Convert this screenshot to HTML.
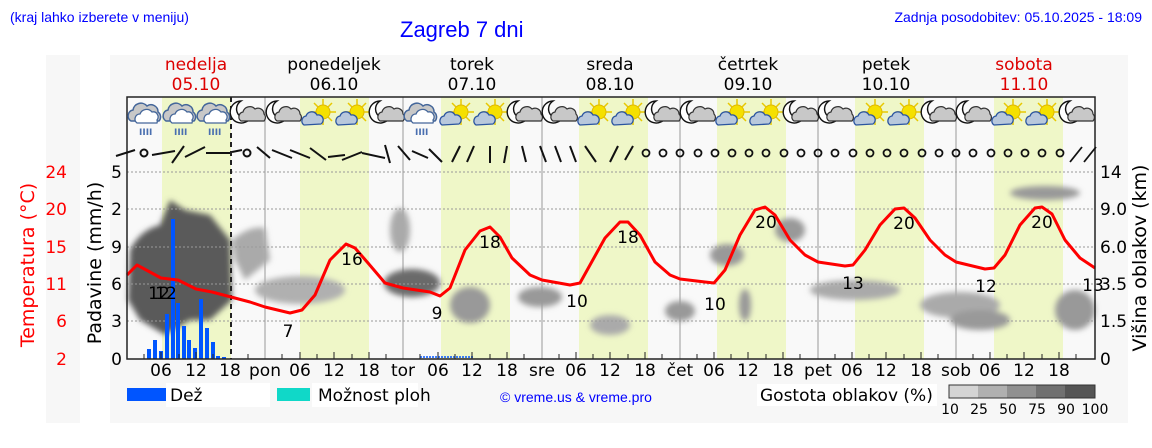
<!DOCTYPE html>
<html><head><meta charset="utf-8"><style>
body{margin:0;background:#fff;width:1152px;height:443px;overflow:hidden;font-family:"Liberation Sans",sans-serif}
</style></head><body>
<svg width="1152" height="443" xmlns="http://www.w3.org/2000/svg" font-family="DejaVu Sans, Liberation Sans, sans-serif">
<defs>
<filter id="bl" x="-30%" y="-30%" width="160%" height="160%"><feGaussianBlur stdDeviation="3"/></filter>
<g id="cr"><path d="M-14,4 a6,6 0 0 1 2,-11 a8,8 0 0 1 14,-4 a7,7 0 0 1 11,6 a6,6 0 0 1 1,9 z" fill="#c8c8c8" stroke="#44669a" stroke-width="1.5"/><path d="M-8,6 a5,5 0 0 1 3,-9 a7,7 0 0 1 12,-2 a5,5 0 0 1 5,8 a4,4 0 0 1 0,3 z" fill="#fff" stroke="#44669a" stroke-width="1.3"/><text x="-6" y="18" font-size="9" fill="#4a6fb0" font-weight="bold">IIII</text></g>
<g id="moon"><path d="M-6,-12 a11,11 0 1 0 10,16 a9,9 0 0 1 -10,-16z" fill="#fff" stroke="#111" stroke-width="1.4"/><path d="M-6,8 a5,5 0 0 1 2,-9 a7,7 0 0 1 12,-3 a6,6 0 0 1 9,5 a5,5 0 0 1 0,7 z" fill="#c8c8c8" stroke="#333" stroke-width="1.2"/></g>
<g id="sun"><g stroke="#e8c800" stroke-width="1.5"><line x1="5" y1="-16" x2="5" y2="10"/><line x1="-8" y1="-3" x2="18" y2="-3"/><line x1="-4" y1="-12" x2="14" y2="6"/><line x1="14" y1="-12" x2="-4" y2="6"/></g><circle cx="5" cy="-3" r="7" fill="#f5e000" stroke="#e0b800"/><path d="M-14,10 a5,5 0 0 1 2,-9 a6,6 0 0 1 11,-1 a5,5 0 0 1 4,9 z" fill="#b8c8dc" stroke="#2b55a0" stroke-width="1.3"/></g>
</defs>
<text x="10" y="22" font-family="Liberation Sans" font-size="14" fill="#0000ff">(kraj lahko izberete v meniju)</text>
<text x="400" y="37" font-family="Liberation Sans" font-size="22" fill="#0000ff">Zagreb 7 dni</text>
<text x="1142" y="22" text-anchor="end" font-family="Liberation Sans" font-size="14" fill="#0000ff">Zadnja posodobitev: 05.10.2025 - 18:09</text>
<rect x="46" y="55" width="34" height="368" fill="#f7f7f7"/>
<rect x="110" y="55" width="1018" height="368" fill="#f7f7f7"/>
<g font-size="17" text-anchor="middle">
<text x="196" y="70" fill="#d00">nedelja</text><text x="196" y="90" fill="#d00">05.10</text>
<text x="334" y="70">ponedeljek</text><text x="334" y="90">06.10</text>
<text x="472" y="70">torek</text><text x="472" y="90">07.10</text>
<text x="610" y="70">sreda</text><text x="610" y="90">08.10</text>
<text x="748" y="70">četrtek</text><text x="748" y="90">09.10</text>
<text x="886" y="70">petek</text><text x="886" y="90">10.10</text>
<text x="1024" y="70" fill="#d00">sobota</text><text x="1024" y="90" fill="#d00">11.10</text>
</g>
<rect x="127" y="97" width="968" height="262" fill="#f9f9f9"/>
<g fill="#eff7c8">
<rect x="162" y="97" width="69" height="262"/><rect x="300" y="97" width="69" height="262"/><rect x="441" y="97" width="69" height="262"/><rect x="579" y="97" width="69" height="262"/><rect x="717" y="97" width="69" height="262"/><rect x="855" y="97" width="69" height="262"/><rect x="994" y="97" width="69" height="262"/>
</g>
<g stroke="#999" stroke-width="1"><line x1="265" y1="97" x2="265" y2="359"/><line x1="403" y1="97" x2="403" y2="359"/><line x1="542" y1="97" x2="542" y2="359"/><line x1="680" y1="97" x2="680" y2="359"/><line x1="818" y1="97" x2="818" y2="359"/><line x1="956" y1="97" x2="956" y2="359"/></g>
<g filter="url(#bl)">
<path d="M130,250 Q140,230 160,225 L170,200 L185,210 L210,215 L230,240 L232,300 L210,320 L190,320 L165,335 L140,320 L128,300 Z" fill="#5a5a5a"/>
<path d="M232,240 Q250,225 265,228 L270,260 L245,280 L235,260Z" fill="#aaa"/>
<ellipse cx="300" cy="290" rx="45" ry="14" fill="#b0b0b0"/><ellipse cx="400" cy="230" rx="10" ry="22" fill="#aaa"/>
<ellipse cx="412" cy="283" rx="28" ry="14" fill="#6a6a6a"/><ellipse cx="470" cy="305" rx="20" ry="18" fill="#999"/>
<ellipse cx="540" cy="297" rx="22" ry="10" fill="#999"/><ellipse cx="610" cy="325" rx="20" ry="10" fill="#aaa"/><ellipse cx="680" cy="311" rx="15" ry="10" fill="#999"/>
<ellipse cx="727" cy="255" rx="17" ry="11" fill="#999"/><ellipse cx="790" cy="230" rx="15" ry="12" fill="#999"/><ellipse cx="745" cy="305" rx="6" ry="16" fill="#999"/>
<ellipse cx="855" cy="290" rx="45" ry="10" fill="#aaa"/><ellipse cx="960" cy="305" rx="40" ry="13" fill="#aaa"/><ellipse cx="980" cy="320" rx="30" ry="10" fill="#999"/>
<ellipse cx="1045" cy="193" rx="35" ry="7" fill="#999"/><ellipse cx="1075" cy="310" rx="20" ry="20" fill="#999"/>
</g>
<g stroke="#999" stroke-dasharray="2,2" stroke-width="1"><line x1="127" y1="172" x2="1095" y2="172"/><line x1="127" y1="209" x2="1095" y2="209"/><line x1="127" y1="247" x2="1095" y2="247"/><line x1="127" y1="284" x2="1095" y2="284"/><line x1="127" y1="321" x2="1095" y2="321"/></g>
<line x1="231" y1="97" x2="231" y2="359" stroke="#222" stroke-width="2" stroke-dasharray="5,4"/>
<g fill="#0055ff">
<rect x="147" y="349" width="4" height="10"/><rect x="153" y="340" width="4" height="19"/><rect x="159" y="351" width="4" height="8"/><rect x="165" y="314" width="4" height="45"/><rect x="171" y="219" width="4" height="140"/><rect x="176" y="303" width="4" height="56"/><rect x="182" y="326" width="4" height="33"/><rect x="187" y="340" width="4" height="19"/><rect x="193" y="348" width="4" height="11"/><rect x="199" y="299" width="4" height="60"/><rect x="205" y="328" width="4" height="31"/><rect x="211" y="342" width="4" height="17"/><rect x="216" y="356" width="4" height="3"/><rect x="222" y="357" width="4" height="2"/>
</g>
<line x1="420" y1="357" x2="473" y2="357" stroke="#0055ff" stroke-width="1.5" stroke-dasharray="2,1"/>
<path d="M127,275 L137,265 L161,278 L178,280 L196,289 L212,292 L231,297 L250,302 L265,307 L290,313 L302,310 L315,295 L330,260 L346,244 L355,248 L368,263 L385,283 L403,288 L430,292 L440,296 L450,288 L465,250 L480,231 L490,227 L500,237 L512,258 L530,275 L542,280 L570,285 L580,283 L590,265 L605,238 L620,222 L628,222 L640,235 L655,262 L670,275 L680,279 L705,282 L714,283 L725,270 L740,235 L755,210 L765,207 L775,215 L790,240 L805,255 L818,262 L845,266 L853,265 L865,250 L880,225 L895,209 L904,208 L915,218 L930,240 L945,255 L956,262 L985,269 L994,268 L1005,255 L1020,225 L1035,208 L1042,207 L1052,214 L1065,240 L1080,258 L1095,268" fill="none" stroke="#f00" stroke-width="3" stroke-linejoin="round"/>
<g font-size="17" text-anchor="middle">
<text x="159" y="299">12</text><text x="166" y="299">12</text><text x="288" y="337">7</text><text x="352" y="265">16</text><text x="437" y="319">9</text><text x="490" y="248">18</text><text x="577" y="307">10</text><text x="628" y="243">18</text><text x="715" y="310">10</text><text x="766" y="228">20</text><text x="853" y="289">13</text><text x="904" y="229">20</text><text x="986" y="292">12</text><text x="1042" y="228">20</text><text x="1093" y="291">13</text>
</g>
<rect x="127" y="97" width="968" height="262" fill="none" stroke="#222" stroke-width="1.5"/>
<g transform="translate(145,117)"><use href="#cr"/></g><g transform="translate(180,117)"><use href="#cr"/></g><g transform="translate(214,117)"><use href="#cr"/></g>
<g transform="translate(247,113)"><use href="#moon"/></g><g transform="translate(283,113)"><use href="#moon"/></g><g transform="translate(318,115)"><use href="#sun"/></g><g transform="translate(352,115)"><use href="#sun"/></g><g transform="translate(386,113)"><use href="#moon"/></g>
<g transform="translate(421,117)"><use href="#cr"/></g><g transform="translate(456,115)"><use href="#sun"/></g><g transform="translate(490,115)"><use href="#sun"/></g><g transform="translate(524,113)"><use href="#moon"/></g>
<g transform="translate(559,113)"><use href="#moon"/></g><g transform="translate(594,115)"><use href="#sun"/></g><g transform="translate(628,115)"><use href="#sun"/></g><g transform="translate(662,113)"><use href="#moon"/></g>
<g transform="translate(697,113)"><use href="#moon"/></g><g transform="translate(732,115)"><use href="#sun"/></g><g transform="translate(766,115)"><use href="#sun"/></g><g transform="translate(800,113)"><use href="#moon"/></g>
<g transform="translate(835,113)"><use href="#moon"/></g><g transform="translate(870,115)"><use href="#sun"/></g><g transform="translate(904,115)"><use href="#sun"/></g><g transform="translate(938,113)"><use href="#moon"/></g>
<g transform="translate(973,113)"><use href="#moon"/></g><g transform="translate(1008,115)"><use href="#sun"/></g><g transform="translate(1042,115)"><use href="#sun"/></g><g transform="translate(1076,113)"><use href="#moon"/></g>
<g stroke="#111" stroke-width="2" fill="none">
<line x1="116" y1="156" x2="135" y2="150"/><circle cx="144" cy="153" r="3.5"/><line x1="152" y1="155" x2="175" y2="151"/><line x1="172" y1="163" x2="184" y2="146"/><line x1="185" y1="157" x2="205" y2="147"/><line x1="206" y1="153" x2="230" y2="153"/><line x1="232" y1="152" x2="242" y2="150"/><circle cx="247" cy="153" r="3.5"/>
<line x1="257" y1="147" x2="270" y2="158"/><line x1="272" y1="150" x2="292" y2="158"/><line x1="290" y1="150" x2="310" y2="158"/><line x1="310" y1="148" x2="326" y2="160"/><line x1="328" y1="157" x2="345" y2="155"/><line x1="342" y1="160" x2="362" y2="152"/><line x1="362" y1="153" x2="385" y2="158"/>
<line x1="385" y1="145" x2="390" y2="163"/><line x1="398" y1="146" x2="410" y2="160"/><line x1="412" y1="151" x2="428" y2="158"/><line x1="429" y1="149" x2="442" y2="162"/><line x1="452" y1="162" x2="460" y2="146"/><line x1="467" y1="162" x2="474" y2="146"/><line x1="490" y1="163" x2="490" y2="146"/><line x1="504" y1="163" x2="507" y2="146"/><line x1="522" y1="146" x2="526" y2="162"/>
<line x1="540" y1="146" x2="546" y2="162"/><line x1="555" y1="146" x2="561" y2="162"/><line x1="570" y1="146" x2="576" y2="162"/><line x1="585" y1="146" x2="596" y2="162"/><line x1="610" y1="162" x2="618" y2="146"/><line x1="625" y1="160" x2="633" y2="146"/>
</g>
<g stroke="#111" stroke-width="1.8" fill="none">
<circle cx="646" cy="153" r="3.5"/><circle cx="663" cy="153" r="3.5"/><circle cx="680" cy="153" r="3.5"/><circle cx="698" cy="153" r="3.5"/><circle cx="715" cy="153" r="3.5"/><circle cx="732" cy="153" r="3.5"/><circle cx="749" cy="153" r="3.5"/><circle cx="766" cy="153" r="3.5"/><circle cx="784" cy="153" r="3.5"/><circle cx="801" cy="153" r="3.5"/><circle cx="818" cy="153" r="3.5"/><circle cx="835" cy="153" r="3.5"/><circle cx="853" cy="153" r="3.5"/><circle cx="870" cy="153" r="3.5"/><circle cx="887" cy="153" r="3.5"/><circle cx="904" cy="153" r="3.5"/><circle cx="922" cy="153" r="3.5"/><circle cx="939" cy="153" r="3.5"/><circle cx="956" cy="153" r="3.5"/><circle cx="973" cy="153" r="3.5"/><circle cx="991" cy="153" r="3.5"/><circle cx="1008" cy="153" r="3.5"/><circle cx="1025" cy="153" r="3.5"/><circle cx="1042" cy="153" r="3.5"/><circle cx="1060" cy="153" r="3.5"/>
<line x1="1070" y1="162" x2="1082" y2="147"/><line x1="1084" y1="162" x2="1096" y2="147"/>
</g>
<g stroke="#222" stroke-width="1">
<path d="M144,359v-5M161,359v-7M179,359v-5M196,359v-7M213,359v-5M248,359v-5M282,359v-5M300,359v-7M317,359v-5M334,359v-7M352,359v-5M369,359v-7M386,359v-5M420,359v-5M438,359v-7M455,359v-5M472,359v-7M490,359v-5M507,359v-7M524,359v-5M559,359v-5M576,359v-7M593,359v-5M610,359v-7M628,359v-5M645,359v-7M662,359v-5M697,359v-5M714,359v-7M731,359v-5M748,359v-7M766,359v-5M783,359v-7M800,359v-5M835,359v-5M852,359v-7M869,359v-5M886,359v-7M904,359v-5M921,359v-7M938,359v-5M973,359v-5M990,359v-7M1007,359v-5M1024,359v-7M1042,359v-5M1059,359v-7M1076,359v-5"/>
</g>
<g font-size="17" text-anchor="middle">
<text x="161" y="376">06</text><text x="196" y="376">12</text><text x="230" y="376">18</text><text x="265" y="376">pon</text><text x="300" y="376">06</text><text x="334" y="376">12</text><text x="369" y="376">18</text><text x="403" y="376">tor</text><text x="438" y="376">06</text><text x="472" y="376">12</text><text x="507" y="376">18</text><text x="542" y="376">sre</text><text x="576" y="376">06</text><text x="610" y="376">12</text><text x="645" y="376">18</text><text x="680" y="376">čet</text><text x="714" y="376">06</text><text x="748" y="376">12</text><text x="783" y="376">18</text><text x="818" y="376">pet</text><text x="852" y="376">06</text><text x="886" y="376">12</text><text x="921" y="376">18</text><text x="956" y="376">sob</text><text x="990" y="376">06</text><text x="1024" y="376">12</text><text x="1059" y="376">18</text>
</g>
<g font-size="17" text-anchor="end">
<text x="122" y="178">5</text><text x="122" y="215">2</text><text x="122" y="253">9</text><text x="122" y="290">6</text><text x="122" y="327">3</text><text x="122" y="365">0</text>
</g>
<g font-size="17" text-anchor="end" fill="#f00" font-family="DejaVu Sans">
<text x="67" y="178">24</text><text x="67" y="215">20</text><text x="67" y="253">15</text><text x="67" y="290">11</text><text x="67" y="327">6</text><text x="67" y="365">2</text>
</g>
<g font-size="17">
<text x="1100" y="178">14</text><text x="1100" y="215">9.0</text><text x="1100" y="253">6.0</text><text x="1100" y="290">3.5</text><text x="1100" y="327">1.5</text><text x="1100" y="365">0</text>
</g>
<text transform="translate(34,265) rotate(-90)" text-anchor="middle" font-size="19" fill="#f00">Temperatura (°C)</text>
<text transform="translate(101,263) rotate(-90)" text-anchor="middle" font-size="19">Padavine (mm/h)</text>
<text transform="translate(1146,258) rotate(-90)" text-anchor="middle" font-size="19">Višina oblakov (km)</text>
<rect x="127" y="388" width="48" height="13" fill="#0055ff"/>
<rect x="166" y="383" width="104" height="24" fill="#fff"/>
<text x="170" y="401" font-size="17">Dež</text>
<rect x="277" y="388" width="33" height="13" fill="#10d8c8"/>
<rect x="312" y="383" width="106" height="24" fill="#fff"/>
<text x="318" y="401" font-size="17">Možnost ploh</text>
<text x="500" y="402" font-family="Liberation Sans" font-size="14" fill="#0000ff">© vreme.us &amp; vreme.pro</text>
<rect x="757" y="384" width="180" height="22" fill="#fff"/>
<text x="760" y="401" font-size="17">Gostota oblakov (%)</text>
<rect x="949" y="385" width="29" height="13" fill="#d4d4d4"/><rect x="978" y="385" width="29" height="13" fill="#b0b0b0"/><rect x="1007" y="385" width="29" height="13" fill="#909090"/><rect x="1036" y="385" width="29" height="13" fill="#707070"/><rect x="1065" y="385" width="30" height="13" fill="#555"/>
<rect x="949" y="385" width="146" height="13" fill="none" stroke="#333"/>
<g font-size="14" text-anchor="middle"><text x="950" y="414">10</text><text x="979" y="414">25</text><text x="1008" y="414">50</text><text x="1037" y="414">75</text><text x="1066" y="414">90</text><text x="1095" y="414">100</text></g>
</svg>
</body></html>
